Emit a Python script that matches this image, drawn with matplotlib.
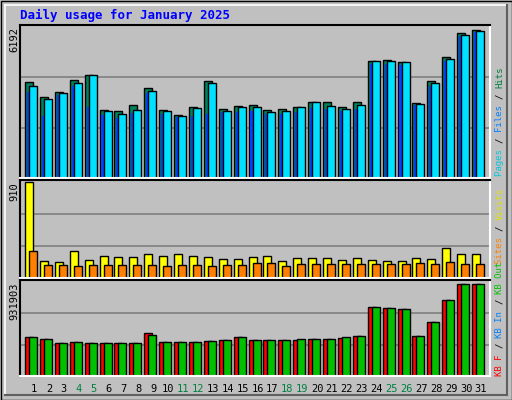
import matplotlib
matplotlib.use("Agg")
import matplotlib.pyplot as plt
import numpy as np

days = list(range(1, 32))
weekend = [4, 5, 11, 12, 18, 19, 25, 26]
hits = [3937, 3320, 3526, 4019, 4224, 2789, 2748, 2994, 3690, 2789, 2584, 2912, 3978, 2830, 2953, 2994, 2789, 2830, 2912, 3116, 3116, 2912, 3116, 4799, 4840, 4758, 3075, 3978, 4963, 5947, 6070]
files = [3773, 3239, 3485, 3896, 4224, 2748, 2625, 2789, 3567, 2748, 2543, 2871, 3896, 2748, 2912, 2912, 2707, 2748, 2912, 3116, 2953, 2830, 2994, 4799, 4799, 4758, 3034, 3896, 4881, 5865, 6029]
pages = [3527, 2543, 3403, 3773, 2912, 2584, 2461, 2666, 3485, 2625, 2502, 2543, 2625, 2707, 2707, 2748, 2625, 2625, 2707, 2871, 2830, 2748, 2830, 4676, 4676, 4635, 2994, 3773, 4799, 5824, 5988]
visits = [910, 165, 155, 252, 174, 213, 203, 203, 223, 213, 223, 213, 203, 184, 184, 203, 213, 165, 194, 194, 194, 174, 194, 174, 165, 165, 194, 184, 281, 223, 232]
sites = [252, 126, 126, 116, 126, 126, 126, 126, 126, 116, 126, 126, 116, 126, 126, 145, 145, 116, 136, 136, 136, 136, 136, 136, 136, 136, 145, 136, 155, 136, 136]
kbf = [384000, 364000, 324000, 334000, 324000, 324000, 324000, 324000, 425000, 334000, 334000, 334000, 344000, 354000, 384000, 354000, 354000, 354000, 354000, 364000, 364000, 374000, 394000, 689000, 679000, 668000, 394000, 536000, 749000, 911000, 911000]
kbo = [384000, 364000, 324000, 334000, 324000, 324000, 324000, 324000, 405000, 334000, 334000, 334000, 344000, 354000, 384000, 354000, 354000, 354000, 364000, 364000, 364000, 384000, 394000, 689000, 679000, 668000, 394000, 536000, 749000, 911000, 911000]
max1, max2, max3 = 6192, 910, 931903

W, H = 512, 400
fig = plt.figure(figsize=(W/100, H/100), dpi=100)
fig.patch.set_facecolor("#C0C0C0")
mono = "DejaVu Sans Mono"

fr = fig.add_axes([0, 0, 1, 1]); fr.set_xlim(0, W); fr.set_ylim(H, 0); fr.axis("off")
fr.add_patch(plt.Rectangle((0.5, 0.5), W-1, H-1, fill=False, ec="black", lw=1))
fr.plot([5, W-5], [5, 5], color="white", lw=1.2); fr.plot([5, 5], [5, H-5], color="white", lw=1.2)
fr.plot([W-5, W-5], [5, H-5], color="#606060", lw=1.5); fr.plot([5, W-5], [H-5, H-5], color="#606060", lw=1.5)

def panel(top, bottom, ymax):
    ax = fig.add_axes([20/W, 1-bottom/H, 470/W, (bottom-top)/H])
    ax.set_facecolor("#C0C0C0")
    x0 = (20-25)/14.9+1
    ax.set_xlim(x0, x0+470/14.9)
    ax.set_ylim(0, ymax*(bottom-top)/(bottom-top-2))
    for s in ax.spines.values(): s.set_color("black"); s.set_linewidth(1.5)
    ax.spines["right"].set_color("white"); ax.spines["bottom"].set_color("white")
    for f in (1/3, 2/3):
        ax.axhline(ymax*f, color="#808080", lw=1.2, zorder=0)
    ax.set_xticks([]); ax.set_yticks([])
    return ax

w = 0.54
kw = dict(align="edge", edgecolor="black", linewidth=1)
d = np.array(days)
a1 = panel(25, 178, max1)
a1.bar(d, hits, w, color="#00805C", **kw)
a1.bar(d+0.13, pages, 0.14, color="#0040FF", align="edge", linewidth=0)
a1.bar(d+0.27, files, w, color="#00E0FF", **kw)

a2 = panel(180, 278, max2)
a2.bar(d, visits, w, color="#FFFF00", **kw)
a2.bar(d+0.27, sites, w, color="#FF8000", **kw)

a3 = panel(280, 376, max3)
a3.bar(d, kbf, w, color="#FF0000", **kw)
a3.bar(d+0.27, kbo, w, color="#00C000", **kw)

for dd in days:
    fr.text(25+(dd-1)*14.9+9, 389, str(dd), ha="center", va="center", fontsize=7.5, family=mono,
            color="#008040" if dd in weekend else "black")

fr.text(20, 15, "Daily usage for January 2025", fontsize=9, family=mono, weight="bold", color="#0000FF", va="center")
for y, t in ((27, "6192"), (182, "910"), (282, "931903")):
    fr.text(14, y, t, rotation=90, ha="center", va="top", fontsize=7.5, family=mono)

def vlabel(ybottom, parts):
    y = ybottom
    for t, c in parts:
        fr.text(500, y, t, rotation=90, ha="center", va="bottom", fontsize=6.5, family=mono, color=c)
        y -= len(t)*5.5
vlabel(176, [("Pages ", "#00C8E0"), ("/ ", "black"), ("Files ", "#0080FF"), ("/ ", "black"), ("Hits", "#008040")])
vlabel(264, [("Sites ", "#FF8000"), ("/ ", "black"), ("Visits", "#E0E000")])
vlabel(376, [("KB F ", "#FF0000"), ("/ ", "black"), ("KB In ", "#0080FF"), ("/ ", "black"), ("KB Out", "#00C000")])

fig.savefig("out.png", dpi=100, facecolor=fig.get_facecolor())
